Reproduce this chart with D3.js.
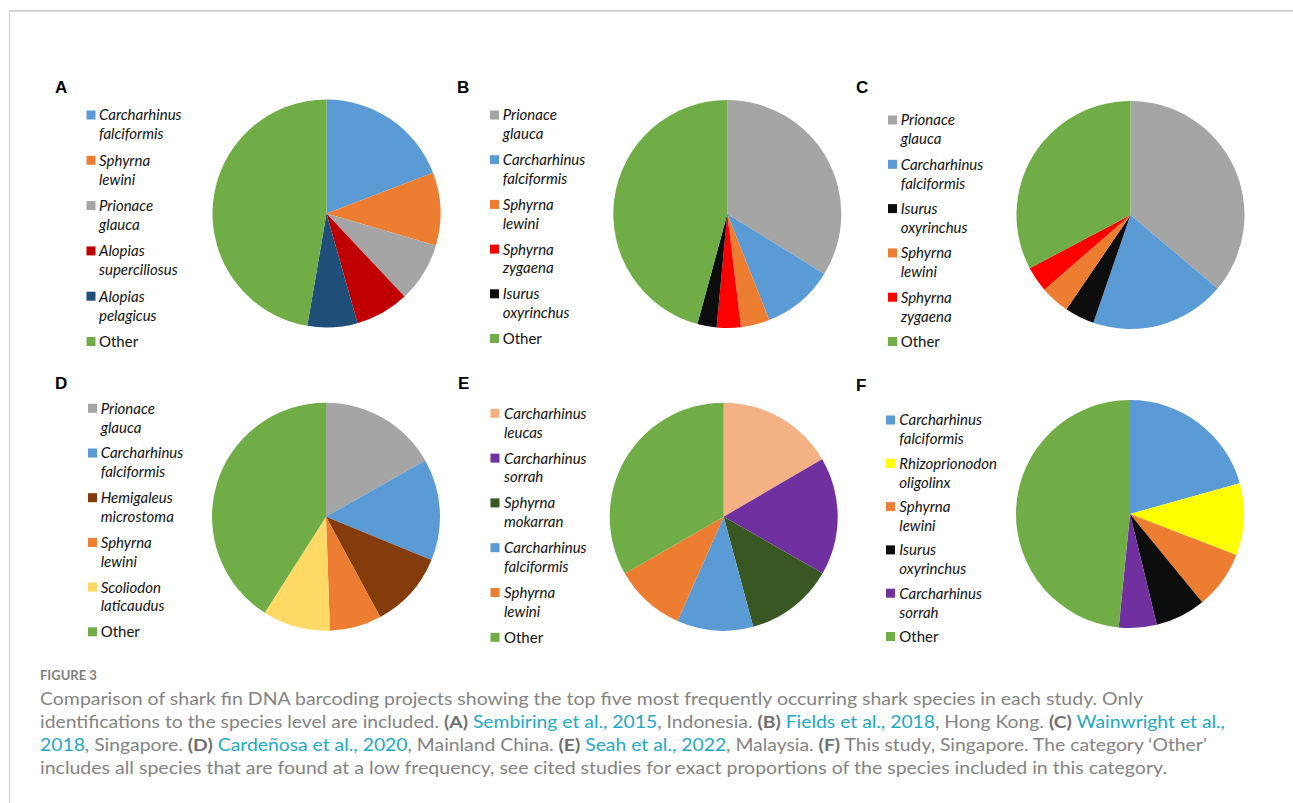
<!DOCTYPE html>
<html>
<head>
<meta charset="utf-8">
<script src="https://cdn.jsdelivr.net/npm/d3@7"></script>
<style>
  body { margin: 0; background: #fff; }
  svg { display: block; }
</style>
</head>
<body>
<svg width="1293" height="803"></svg>
<script>
// panel data (degrees of the pie, clockwise from 12 o'clock)
var speciesA = ["Carcharhinus falciformis", "Sphyrna lewini", "Prionace glauca", "Alopias superciliosus", "Alopias pelagicus", "Other"];
var valuesA  = [69.1, 37.2, 30.5, 27.4, 25.5, 170.3];

var speciesB = ["Prionace glauca", "Carcharhinus falciformis", "Sphyrna lewini", "Sphyrna zygaena", "Isurus oxyrinchus", "Other"];
var valuesB  = [121.7, 36.7, 14.7, 12.3, 9.8, 164.8];

var speciesC = ["Prionace glauca", "Carcharhinus falciformis", "Isurus oxyrinchus", "Sphyrna lewini", "Sphyrna zygaena", "Other"];
var valuesC  = [130.2, 68.8, 15.2, 14.9, 13.1, 117.8];

var speciesD = ["Prionace glauca", "Carcharhinus falciformis", "Hemigaleus microstoma", "Sphyrna lewini", "Scoliodon laticaudus", "Other"];
var valuesD  = [60.5, 51.8, 39.3, 26.4, 34.5, 147.5];

var speciesE = ["Carcharhinus leucas", "Carcharhinus sorrah", "Sphyrna mokarran", "Carcharhinus falciformis", "Sphyrna lewini", "Other"];
var valuesE  = [59.7, 60.1, 45.2, 38.9, 36.2, 119.9];

var speciesF = ["Carcharhinus falciformis", "Rhizoprionodon oligolinx", "Sphyrna lewini", "Isurus oxyrinchus", "Carcharhinus sorrah", "Other"];
var valuesF  = [74.3, 36.8, 29.6, 25.7, 19.3, 174.3];

var speciesColor = {
  "Carcharhinus falciformis": "#5b9bd5",
  "Sphyrna lewini": "#ed7d31",
  "Prionace glauca": "#a5a5a5",
  "Alopias superciliosus": "#c00000",
  "Alopias pelagicus": "#1f4e79",
  "Sphyrna zygaena": "#ff0000",
  "Isurus oxyrinchus": "#0d0d0d",
  "Hemigaleus microstoma": "#843c0c",
  "Scoliodon laticaudus": "#ffd966",
  "Carcharhinus leucas": "#f4b183",
  "Carcharhinus sorrah": "#7030a0",
  "Sphyrna mokarran": "#385723",
  "Rhizoprionodon oligolinx": "#ffff00",
  "Other": "#70ad47"
};

// layout of each panel (positions only)
var panels = [
  {label: "A", species: speciesA, values: valuesA, cx: 326.5, cy: 213.5, lx: 55, ly: 87,  sx: 86.5, tx: 99,    y0: 115,   step: 45.3},
  {label: "B", species: speciesB, values: valuesB, cx: 727.3, cy: 214,   lx: 457, ly: 87, sx: 490,  tx: 502.7, y0: 115,   step: 44.7},
  {label: "C", species: speciesC, values: valuesC, cx: 1130.5, cy: 215,  lx: 856, ly: 87, sx: 888,  tx: 900.7, y0: 120,   step: 44.3},
  {label: "D", species: speciesD, values: valuesD, cx: 326,   cy: 516.7, lx: 55, ly: 383, sx: 88,   tx: 100.7, y0: 408.3, step: 44.7},
  {label: "E", species: speciesE, values: valuesE, cx: 723.7, cy: 516.7, lx: 458, ly: 383, sx: 490.5, tx: 504, y0: 413.3, step: 44.8},
  {label: "F", species: speciesF, values: valuesF, cx: 1130,  cy: 514,   lx: 856, ly: 385, sx: 886,  tx: 899.3, y0: 420,   step: 43.3}
];

var svg = d3.select("svg"),
    radius = 114;

// page frame
svg.append("line")
    .attr("x1", 9).attr("x2", 1293).attr("y1", 11).attr("y2", 11)
    .attr("stroke", "#d6d6d6").attr("stroke-width", 2);
svg.append("line")
    .attr("x1", 9.5).attr("x2", 9.5).attr("y1", 11).attr("y2", 803)
    .attr("stroke", "#cfcfcf").attr("stroke-width", 1);

var pie = d3.pie().sort(null).value(function(d) { return d.value; });
var arc = d3.arc().innerRadius(0).outerRadius(radius);

panels.forEach(function(p) {
  var data = p.species.map(function(s, i) { return {name: s, value: p.values[i]}; });

  var g = svg.append("g");

  g.append("text") // panel letter
      .attr("x", p.lx)
      .attr("y", p.ly)
      .attr("dy", "0.36em")
      .attr("font-family", "Liberation Sans, Arial, sans-serif")
      .attr("font-weight", "bold")
      .attr("font-size", 17)
      .attr("fill", "#000")
      .text(p.label);

  g.append("g")
      .attr("transform", "translate(" + p.cx + "," + p.cy + ")")
    .selectAll("path")
    .data(pie(data))
    .enter().append("path")
      .attr("d", arc)
      .attr("fill", function(d) { return speciesColor[d.data.name]; });

  var item = g.selectAll(".item")
    .data(data)
    .enter().append("g")
      .attr("class", "item")
      .attr("transform", function(d, i) { return "translate(0," + (p.y0 + i * p.step) + ")"; });

  item.append("rect")
      .attr("x", p.sx)
      .attr("y", -4.5)
      .attr("width", 9)
      .attr("height", 9)
      .attr("fill", function(d) { return speciesColor[d.name]; });

  item.each(function(d) {
    var words = d.name.split(" ");
    var t = d3.select(this).append("text")
        .attr("font-family", "Lato, Carlito, sans-serif")
        .attr("font-size", 15)
        .attr("fill", "#111")
        .attr("font-style", d.name === "Other" ? "normal" : "italic");
    words.forEach(function(w, i) {
      t.append("tspan")
          .attr("x", p.tx)
          .attr("y", i * 19)
          .attr("dy", "0.36em")
          .text(w);
    });
  });
});

// caption
var captionLines = [
  [["Comparison of shark fin DNA barcoding projects showing the top five most frequently occurring shark species in each study. Only", "t"]],
  [["identifications to the species level are included. ", "t"], ["(A)", "b"], [" ", "t"], ["Sembiring et al., 2015", "l"], [", Indonesia. ", "t"], ["(B)", "b"], [" ", "t"], ["Fields et al., 2018", "l"], [", Hong Kong. ", "t"], ["(C)", "b"], [" ", "t"], ["Wainwright et al.,", "l"]],
  [["2018", "l"], [", Singapore. ", "t"], ["(D)", "b"], [" ", "t"], ["Cardeñosa et al., 2020", "l"], [", Mainland China. ", "t"], ["(E)", "b"], [" ", "t"], ["Seah et al., 2022", "l"], [", Malaysia. ", "t"], ["(F)", "b"], [" This study, Singapore. The category \u2018Other\u2019", "t"]],
  [["includes all species that are found at a low frequency, see cited studies for exact proportions of the species included in this category.", "t"]]
];
var captionEnds = [1143, 1225, 1207, 1167];

svg.append("text")
    .attr("x", 40)
    .attr("y", 680)
    .attr("font-family", "Lato, Open Sans, sans-serif")
    .attr("font-size", 13)
    .attr("font-weight", "bold")
    .attr("fill", "#808080")
    .text("FIGURE 3");

captionLines.forEach(function(parts, i) {
  var t = svg.append("text")
      .attr("x", 40)
      .attr("y", 705 + i * 23)
      .attr("font-family", "Lato, Open Sans, sans-serif")
      .attr("font-size", 17)
      .attr("fill", "#838383")
      .attr("textLength", captionEnds[i] - 40)
      .attr("lengthAdjust", "spacingAndGlyphs")
      .attr("xml:space", "preserve")
      .style("white-space", "pre");
  parts.forEach(function(s) {
    t.append("tspan")
        .attr("fill", s[1] === "l" ? "#22a9c6" : (s[1] === "b" ? "#707070" : "#838383"))
        .attr("font-weight", s[1] === "b" ? "bold" : "normal")
        .text(s[0]);
  });
});
</script>
</body>
</html>
